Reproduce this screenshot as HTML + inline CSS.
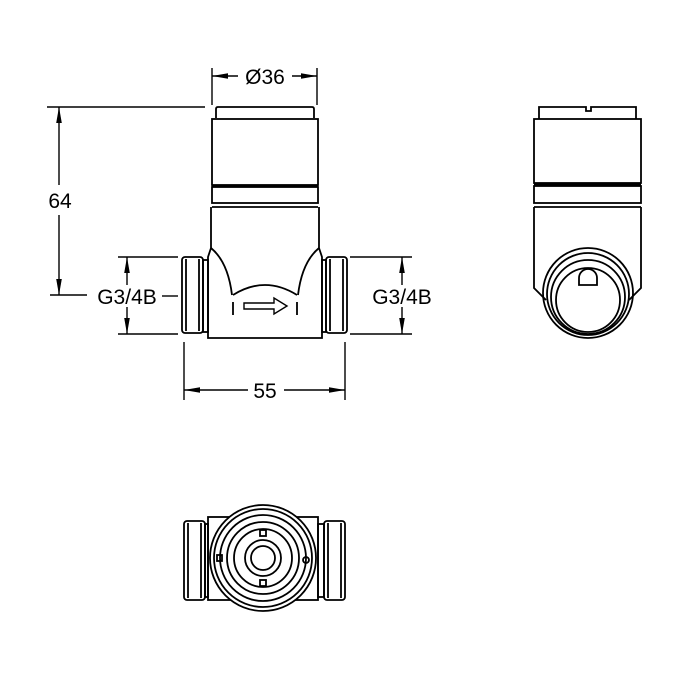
<!DOCTYPE html>
<html><head><style>
html,body{margin:0;padding:0;background:#fff;}
svg{display:block}
text{font-family:"Liberation Sans",Arial,sans-serif;font-size:21px;fill:#000}
</style></head><body>
<svg width="700" height="700" viewBox="0 0 700 700" xmlns="http://www.w3.org/2000/svg">
<defs>
<marker id="b" viewBox="0 0 20 10" refX="20" refY="5" markerWidth="16" markerHeight="8" markerUnits="userSpaceOnUse" orient="auto-start-reverse"><path d="M0,1.5 L20,5 L0,8.5 z" fill="#000"/></marker>
</defs>
<g stroke="#000" fill="none" stroke-width="1.4">
<line x1="212" y1="68" x2="212" y2="105"/><line x1="317" y1="68" x2="317" y2="105"/>
<line x1="212" y1="76" x2="238" y2="76" marker-start="url(#b)"/>
<line x1="292" y1="76" x2="317" y2="76" marker-end="url(#b)"/>
<line x1="47" y1="107" x2="205" y2="107"/>
<line x1="59" y1="107" x2="59" y2="185" marker-start="url(#b)"/>
<line x1="59" y1="215" x2="59" y2="295" marker-end="url(#b)"/>
<line x1="50" y1="295" x2="87" y2="295"/>
<line x1="118" y1="257" x2="178" y2="257"/><line x1="118" y1="334" x2="178" y2="334"/>
<line x1="127" y1="257" x2="127" y2="285" marker-start="url(#b)"/>
<line x1="127" y1="307" x2="127" y2="334" marker-end="url(#b)"/>
<line x1="162" y1="296" x2="178" y2="296"/>
<line x1="350" y1="257" x2="412" y2="257"/><line x1="350" y1="334" x2="412" y2="334"/>
<line x1="402" y1="257" x2="402" y2="285" marker-start="url(#b)"/>
<line x1="402" y1="307" x2="402" y2="334" marker-end="url(#b)"/>
<line x1="184" y1="342" x2="184" y2="400"/><line x1="345" y1="342" x2="345" y2="400"/>
<line x1="184" y1="390" x2="248" y2="390" marker-start="url(#b)"/>
<line x1="284" y1="390" x2="345" y2="390" marker-end="url(#b)"/>
</g>
<text x="265" y="84" text-anchor="middle">Ø36</text>
<text x="60" y="208" text-anchor="middle">64</text>
<text x="127" y="304" text-anchor="middle">G3/4B</text>
<text x="402" y="304" text-anchor="middle">G3/4B</text>
<text x="265" y="398" text-anchor="middle">55</text>

<g stroke="#000" fill="none" stroke-width="1.8">
<path d="M216,118 L216,109 Q216,107 218,107 L312,107 Q314,107 314,109 L314,118"/>
<rect x="212" y="119" width="106" height="66"/>
<line x1="212" y1="186" x2="318" y2="186" stroke-width="3"/>
<rect x="212" y="187" width="106" height="16"/>
<line x1="212" y1="207" x2="318" y2="207"/>
<path d="M211,207 L211,248 L208,257 L208,338 L322,338 L322,257 L319,248 L319,207"/>
<path d="M211,248 Q228,262 232,295 M233,302 L233,315"/>
<path d="M319,248 Q302,262 298,295 M297,302 L297,315"/>
<path d="M233,295 Q265,275 297,295"/>
<path d="M244,303 L274,303 L274,298 L287,306 L274,314 L274,309 L244,309 Z" stroke-width="1.4"/>
<rect x="182" y="257" width="21" height="76" rx="3"/>
<line x1="186" y1="259" x2="186" y2="331"/><line x1="199" y1="259" x2="199" y2="331"/>
<rect x="203" y="260" width="5" height="72"/>
<rect x="326" y="257" width="21" height="76" rx="3"/>
<line x1="330" y1="259" x2="330" y2="331"/><line x1="343" y1="259" x2="343" y2="331"/>
<rect x="322" y="260" width="4" height="72"/>

<path d="M539,119 L539,107 L586,107 L586,111 L591,111 L591,107 L636,107 L636,119"/>
<rect x="534" y="119" width="107" height="64"/>
<line x1="534" y1="185" x2="641" y2="185" stroke-width="3"/>
<rect x="534" y="186" width="107" height="17"/>
<line x1="534" y1="207" x2="641" y2="207"/>
<path d="M534,207 L534,288 L546,300 M641,207 L641,288 L629,300"/>
<circle cx="588" cy="293" r="45"/>
<circle cx="588" cy="294" r="41"/>
<circle cx="588" cy="297" r="37"/>
<circle cx="588" cy="300" r="32"/>
<path d="M579,285 L579,278 A9,9 0 0 1 597,278 L597,285 Z"/>

<rect x="208" y="517" width="110" height="83"/>
<circle cx="263" cy="558" r="53" fill="#fff"/>
<circle cx="263" cy="558" r="49"/>
<circle cx="263" cy="558" r="43"/>
<circle cx="263" cy="558" r="36"/>
<circle cx="263" cy="558" r="29"/>
<circle cx="263" cy="558" r="18"/>
<circle cx="263" cy="558" r="12"/>
<rect x="260" y="530" width="6" height="6"/><rect x="260" y="580" width="6" height="6"/>
<rect x="217" y="555" width="5" height="6"/><circle cx="306" cy="560" r="3"/>
<rect x="184" y="521" width="21" height="79" rx="3"/>
<line x1="188" y1="523" x2="188" y2="598"/><line x1="201" y1="523" x2="201" y2="598"/>
<rect x="205" y="524" width="3" height="73"/>
<rect x="324" y="521" width="21" height="79" rx="3"/>
<line x1="328" y1="523" x2="328" y2="598"/><line x1="341" y1="523" x2="341" y2="598"/>
<rect x="318" y="524" width="6" height="73"/>
</g>
</svg>
</body></html>
